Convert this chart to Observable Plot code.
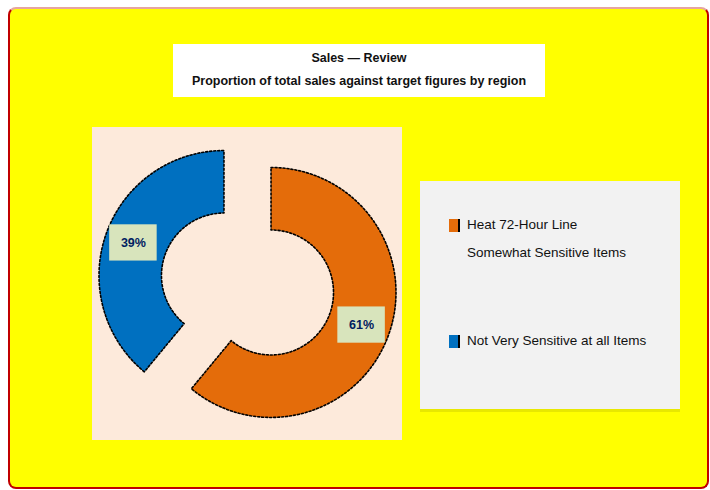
<!DOCTYPE html>
<html><head><meta charset="utf-8">
<script src="https://cdn.jsdelivr.net/npm/d3@7"></script>
<script src="https://cdn.jsdelivr.net/npm/@observablehq/plot@0.6"></script>
<style>
body{margin:0;width:710px;height:490px;background:#fff;font-family:"Liberation Sans",Arial,sans-serif;overflow:hidden}
#frame{position:absolute;left:8px;top:7px;width:697px;height:478px;background:#FFFF00;border:2px solid #C00000;border-top-color:#E6A5A0;border-radius:8px}
#title{position:absolute;left:173px;top:44px;width:372px;height:53px;background:#fff;text-align:center;font-size:12.5px;font-weight:bold;color:#111;line-height:23px;padding-top:3px;box-sizing:border-box;white-space:nowrap}
#plot{position:absolute;left:92px;top:127px;width:310px;height:313px;background:#FDEADB}
#legend{position:absolute;left:420px;top:181px;width:260px;height:231px;background:#F2F2F2;border-bottom:3px solid #E8E800;box-sizing:border-box;font-size:13.5px;color:#111}
.item{position:absolute;left:29px;line-height:28px}
.sw{position:absolute;left:0;top:8px;width:9px;height:13px;border-right:2px solid #000}
.txt{position:absolute;left:18px;white-space:nowrap}
</style></head><body>
<div id="frame"></div>
<div id="title">Sales — Review<br>Proportion of total sales against target figures by region</div>
<div id="plot"></div>
<div id="legend"></div>
<script>
const categories = ["Heat 72-Hour Line\nSomewhat Sensitive Items", "Not Very Sensitive at all Items"];
const values = [61, 39];
const labels = ["61%", "39%"];
const colors = ["#E46C0A", "#0070C0"];

const inner = 0.5, outer = 1, explode = 0.2;
const total = d3.sum(values);
let acc = 0;
const polys = [], labs = [];
values.forEach((v, i) => {
  const a0 = acc / total * 2 * Math.PI, a1 = (acc + v) / total * 2 * Math.PI; acc += v;
  const am = (a0 + a1) / 2;
  const ox = explode * Math.sin(am), oy = -explode * Math.cos(am);
  const n = 80, pts = [];
  for (let k = 0; k <= n; k++) { const a = a0 + (a1 - a0) * k / n; pts.push([ox + outer * Math.sin(a), oy - outer * Math.cos(a)]); }
  for (let k = n; k >= 0; k--) { const a = a0 + (a1 - a0) * k / n; pts.push([ox + inner * Math.sin(a), oy - inner * Math.cos(a)]); }
  pts.push(pts[0]);
  pts.forEach(p => polys.push({x: p[0], y: p[1], s: i}));
  const rm = (inner + outer) / 2 + 0.02;
  labs.push({x: ox + rm * Math.sin(am), y: oy - rm * Math.cos(am), t: labels[i]});
});

const W = 310, H = 313, k = 125;
const chart = Plot.plot({
  width: W, height: H, margin: 0,
  style: {background: "transparent", overflow: "visible"},
  x: {domain: [-W / 2 / k, W / 2 / k], axis: null},
  y: {domain: [H / 2 / k, -H / 2 / k], axis: null},
  marks: [
    ...values.map((v, i) => Plot.line(polys.filter(d => d.s === i), {x: "x", y: "y", fill: colors[i], stroke: "#000", strokeWidth: 1.6, strokeDasharray: "2,2", curve: "linear"})),
    Plot.rect(labs, {x1: d => d.x - 0.19, x2: d => d.x + 0.19, y1: d => d.y - 0.145, y2: d => d.y + 0.145, fill: "#D8E4BC"}),
    Plot.text(labs, {x: "x", y: "y", text: "t", fill: "#002060", fontSize: 12.5, fontWeight: "bold", fontFamily: "Liberation Sans, Arial"})
  ]
});
document.getElementById("plot").appendChild(chart);

const lg = document.getElementById("legend");
const tops = [30, 146];
categories.forEach((c, i) => {
  const it = document.createElement("div");
  it.className = "item"; it.style.top = tops[i] + "px";
  it.innerHTML = `<div class="sw" style="background:${colors[i]}"></div><div class="txt">${c.replace("\n", "<br>")}</div>`;
  lg.appendChild(it);
});
</script>
</body></html>
